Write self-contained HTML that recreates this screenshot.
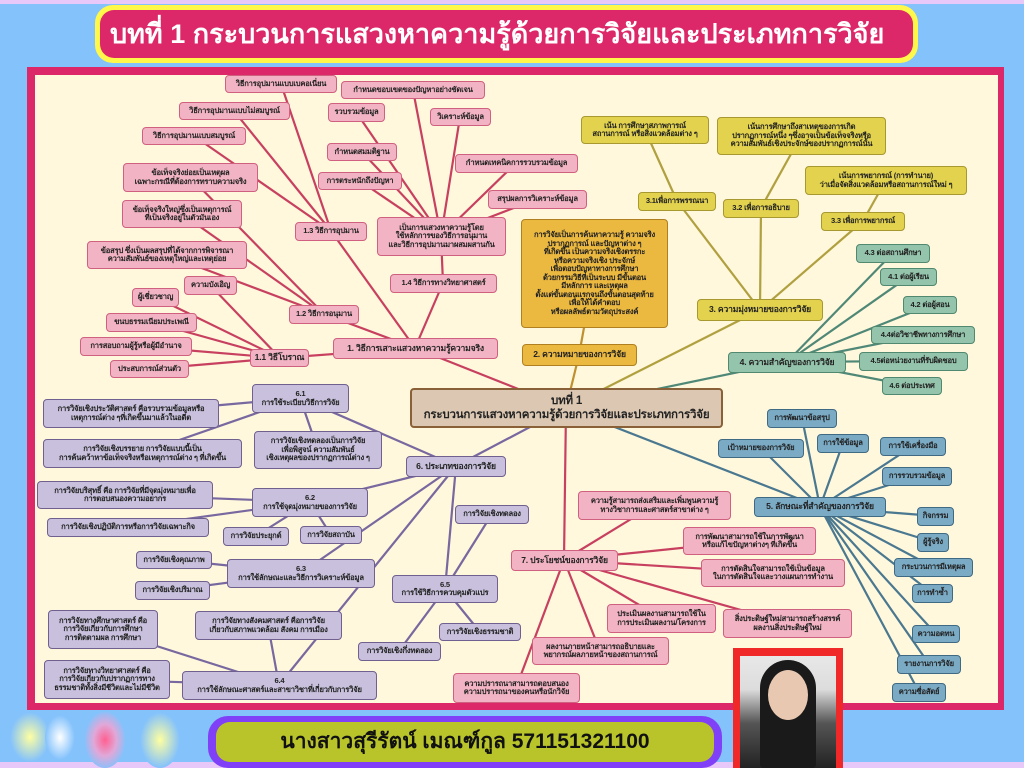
<!DOCTYPE html>
<html><head><meta charset="utf-8"><style>
*{margin:0;padding:0;box-sizing:border-box}
body{width:1024px;height:768px;overflow:hidden;position:relative;background:#84c2fc;font-family:"Liberation Sans","Noto Sans CJK SC",sans-serif}
.top{position:absolute;left:0;top:0;width:1024px;height:4px;background:#e8c8f8}
.bot{position:absolute;left:0;bottom:0;width:1024px;height:6px;background:#e8c8f8}
.hdr{position:absolute;left:95px;top:5px;width:823px;height:58px;background:#fff84a;border-radius:18px}
.hdr div{position:absolute;left:5px;top:5px;right:5px;bottom:5px;background:#dc2868;border-radius:14px;color:#fff;font-weight:bold;font-size:27px;line-height:48px;padding-left:10px;white-space:nowrap}
.frame{position:absolute;left:27px;top:67px;width:977px;height:643px;background:#dc2868}
.inner{position:absolute;left:35px;top:75px;width:963px;height:628px;background:#fff8dc}
.name{position:absolute;left:208px;top:716px;width:514px;height:52px;background:#8040f8;border-radius:20px}
.name div{position:absolute;left:8px;top:6px;right:8px;bottom:6px;background:#b8c42a;border-radius:14px;text-align:center;font-weight:bold;font-size:21px;line-height:40px;color:#111}
.photo{position:absolute;left:733px;top:648px;width:110px;height:120px;background:#f02828}
.photo div{position:absolute;left:7px;top:8px;right:7px;bottom:0;background:linear-gradient(#e8e8e8 0,#dcdcdc 30%,#555 60%,#222)}
.face{position:absolute;left:28px;top:14px;width:40px;height:50px;border-radius:50%;background:#e8c8b0}
.hair{position:absolute;left:20px;top:4px;width:56px;height:108px;border-radius:28px 28px 4px 4px;background:#1a1a1a}
.n{position:absolute;display:flex;align-items:center;justify-content:center;text-align:center;font-size:7.6px;font-weight:bold;line-height:1.12;border-radius:4px;border:1px solid;color:#222;white-space:nowrap;overflow:hidden;letter-spacing:-0.2px}
.p{background:#f2b4c4;border-color:#d06080}
.y{background:#e2d24e;border-color:#a89830}
.o{background:#ebb840;border-color:#b08020}
.g{background:#94c4ac;border-color:#508870}
.b{background:#7aaac4;border-color:#406a84}
.v{background:#c8c0dc;border-color:#706090}
.c{background:#dcc8b2;border-color:#8a6038;font-size:11.5px;border-width:2px;line-height:1.25}
.m{font-size:8.6px}
svg{position:absolute;left:0;top:0}
.glow{position:absolute;border-radius:50%}
</style></head><body>
<div class="top"></div><div class="bot"></div>
<div class="glow" style="left:10px;top:712px;width:40px;height:50px;background:radial-gradient(#ffffa0,#84c2fc 70%)"></div>
<div class="glow" style="left:45px;top:715px;width:30px;height:45px;background:radial-gradient(#ffffff,#84c2fc 70%)"></div>
<div class="glow" style="left:85px;top:712px;width:40px;height:56px;background:radial-gradient(#ff6090,#e0a8d8 40%,#84c2fc 75%)"></div>
<div class="glow" style="left:140px;top:712px;width:40px;height:56px;background:radial-gradient(#ffffa0,#84c2fc 70%)"></div>
<div class="hdr"><div>บทที่ 1 กระบวนการแสวงหาความรู้ด้วยการวิจัยและประเภทการวิจัย</div></div>
<div class="frame"></div><div class="inner"></div>
<svg width="1024" height="768">
<g stroke-linecap="round">
<g stroke="#c84060" stroke-width="2.2">
<line x1="566" y1="408" x2="415" y2="348"/><line x1="415" y1="348" x2="280" y2="358"/><line x1="415" y1="348" x2="324" y2="314"/><line x1="415" y1="348" x2="331" y2="231"/><line x1="415" y1="348" x2="443" y2="283"/>
<line x1="280" y1="358" x2="155" y2="297"/><line x1="280" y1="358" x2="151" y2="322"/><line x1="280" y1="358" x2="136" y2="346"/><line x1="280" y1="358" x2="150" y2="369"/><line x1="280" y1="358" x2="210" y2="285"/>
<line x1="324" y1="314" x2="190" y2="177"/><line x1="324" y1="314" x2="182" y2="214"/><line x1="324" y1="314" x2="167" y2="255"/>
<line x1="331" y1="231" x2="281" y2="84"/><line x1="331" y1="231" x2="234" y2="111"/><line x1="331" y1="231" x2="194" y2="136"/>
<line x1="443" y1="283" x2="441" y2="236"/>
<line x1="441" y1="236" x2="413" y2="90"/><line x1="441" y1="236" x2="356" y2="112"/><line x1="441" y1="236" x2="460" y2="117"/><line x1="441" y1="236" x2="362" y2="152"/><line x1="441" y1="236" x2="516" y2="163"/><line x1="441" y1="236" x2="360" y2="181"/><line x1="441" y1="236" x2="537" y2="199"/>
<line x1="566" y1="408" x2="564" y2="560"/>
<line x1="564" y1="560" x2="654" y2="505"/><line x1="564" y1="560" x2="749" y2="541"/><line x1="564" y1="560" x2="773" y2="573"/><line x1="564" y1="560" x2="661" y2="618"/><line x1="564" y1="560" x2="787" y2="623"/><line x1="564" y1="560" x2="600" y2="651"/><line x1="564" y1="560" x2="516" y2="688"/>
</g>
<g stroke="#b0a040" stroke-width="2.2">
<line x1="566" y1="408" x2="760" y2="310"/><line x1="760" y1="310" x2="677" y2="201"/><line x1="760" y1="310" x2="761" y2="208"/><line x1="760" y1="310" x2="863" y2="221"/>
<line x1="677" y1="201" x2="645" y2="130"/><line x1="761" y1="208" x2="801" y2="136"/><line x1="863" y1="221" x2="886" y2="180"/>
</g>
<g stroke="#c09030" stroke-width="2.2"><line x1="566" y1="408" x2="579" y2="355"/><line x1="579" y1="355" x2="594" y2="273"/></g>
<g stroke="#508878" stroke-width="2.2">
<line x1="566" y1="408" x2="787" y2="362"/><line x1="787" y1="362" x2="893" y2="253"/><line x1="787" y1="362" x2="908" y2="277"/><line x1="787" y1="362" x2="930" y2="305"/><line x1="787" y1="362" x2="923" y2="335"/><line x1="787" y1="362" x2="913" y2="361"/><line x1="787" y1="362" x2="912" y2="386"/>
</g>
<g stroke="#4a7890" stroke-width="2.2">
<line x1="566" y1="408" x2="820" y2="507"/>
<line x1="820" y1="507" x2="802" y2="418"/><line x1="820" y1="507" x2="761" y2="448"/><line x1="820" y1="507" x2="843" y2="443"/><line x1="820" y1="507" x2="913" y2="446"/><line x1="820" y1="507" x2="917" y2="476"/><line x1="820" y1="507" x2="935" y2="516"/><line x1="820" y1="507" x2="933" y2="542"/><line x1="820" y1="507" x2="933" y2="567"/><line x1="820" y1="507" x2="932" y2="593"/><line x1="820" y1="507" x2="936" y2="634"/><line x1="820" y1="507" x2="929" y2="664"/><line x1="820" y1="507" x2="919" y2="692"/>
</g>
<g stroke="#7868a0" stroke-width="2.2">
<line x1="566" y1="408" x2="456" y2="466"/>
<line x1="456" y1="466" x2="300" y2="398"/><line x1="456" y1="466" x2="310" y2="502"/><line x1="456" y1="466" x2="301" y2="573"/><line x1="456" y1="466" x2="279" y2="685"/><line x1="456" y1="466" x2="445" y2="589"/>
<line x1="300" y1="398" x2="131" y2="413"/><line x1="300" y1="398" x2="142" y2="453"/><line x1="300" y1="398" x2="318" y2="450"/>
<line x1="310" y1="502" x2="125" y2="495"/><line x1="310" y1="502" x2="128" y2="527"/><line x1="310" y1="502" x2="256" y2="536"/><line x1="310" y1="502" x2="331" y2="535"/>
<line x1="301" y1="573" x2="174" y2="560"/><line x1="301" y1="573" x2="172" y2="590"/>
<line x1="279" y1="685" x2="103" y2="629"/><line x1="279" y1="685" x2="268" y2="625"/><line x1="279" y1="685" x2="107" y2="680"/>
<line x1="445" y1="589" x2="492" y2="514"/><line x1="445" y1="589" x2="480" y2="632"/><line x1="445" y1="589" x2="399" y2="651"/>
</g>
</g>
</svg>
<div class="n c" style="left:410px;top:388px;width:313px;height:40px;flex-direction:column">บทที่ 1<br>กระบวนการแสวงหาความรู้ด้วยการวิจัยและประเภทการวิจัย</div>
<div class="n p" style="left:225px;top:75px;width:112px;height:18px">วิธีการอุปมานแบบเบคอเนี่ยน</div>
<div class="n p" style="left:341px;top:81px;width:144px;height:18px">กำหนดขอบเขตของปัญหาอย่างชัดเจน</div>
<div class="n p" style="left:179px;top:102px;width:111px;height:18px">วิธีการอุปมานแบบไม่สมบูรณ์</div>
<div class="n p" style="left:328px;top:103px;width:57px;height:19px">รวบรวมข้อมูล</div>
<div class="n p" style="left:430px;top:108px;width:61px;height:18px">วิเคราะห์ข้อมูล</div>
<div class="n p" style="left:142px;top:127px;width:104px;height:18px">วิธีการอุปมานแบบสมบูรณ์</div>
<div class="n p" style="left:327px;top:143px;width:70px;height:18px">กำหนดสมมติฐาน</div>
<div class="n p" style="left:455px;top:154px;width:123px;height:19px">กำหนดเทคนิคการรวบรวมข้อมูล</div>
<div class="n p" style="left:318px;top:172px;width:84px;height:18px">การตระหนักถึงปัญหา</div>
<div class="n p" style="left:488px;top:190px;width:99px;height:19px">สรุปผลการวิเคราะห์ข้อมูล</div>
<div class="n p" style="left:123px;top:163px;width:135px;height:29px">ข้อเท็จจริงย่อยเป็นเหตุผล<br>เฉพาะกรณีที่ต้องการทราบความจริง</div>
<div class="n p" style="left:122px;top:200px;width:120px;height:28px">ข้อเท็จจริงใหญ่ซึ่งเป็นเหตุการณ์<br>ที่เป็นจริงอยู่ในตัวมันเอง</div>
<div class="n p" style="left:87px;top:241px;width:160px;height:28px">ข้อสรุป ซึ่งเป็นผลสรุปที่ได้จากการพิจารณา<br>ความสัมพันธ์ของเหตุใหญ่และเหตุย่อย</div>
<div class="n p" style="left:295px;top:222px;width:72px;height:19px">1.3 วิธีการอุปมาน</div>
<div class="n p" style="left:377px;top:217px;width:129px;height:39px">เป็นการแสวงหาความรู้โดย<br>ใช้หลักการของวิธีการอนุมาน<br>และวิธีการอุปมานมาผสมผสานกัน</div>
<div class="n p" style="left:390px;top:274px;width:107px;height:19px">1.4 วิธีการทางวิทยาศาสตร์</div>
<div class="n p" style="left:184px;top:276px;width:53px;height:19px">ความบังเอิญ</div>
<div class="n p" style="left:132px;top:288px;width:47px;height:19px">ผู้เชี่ยวชาญ</div>
<div class="n p" style="left:289px;top:305px;width:70px;height:19px">1.2 วิธีการอนุมาน</div>
<div class="n p" style="left:106px;top:313px;width:91px;height:19px">ขนบธรรมเนียมประเพณี</div>
<div class="n p" style="left:80px;top:337px;width:112px;height:19px">การสอบถามผู้รู้หรือผู้มีอำนาจ</div>
<div class="n p m" style="left:250px;top:349px;width:59px;height:18px">1.1 วิธีโบราณ</div>
<div class="n p m" style="left:333px;top:338px;width:165px;height:21px">1. วิธีการเสาะแสวงหาความรู้ความจริง</div>
<div class="n p" style="left:110px;top:360px;width:79px;height:18px">ประสบการณ์ส่วนตัว</div>
<div class="n o" style="left:521px;top:219px;width:147px;height:109px">การวิจัยเป็นการค้นหาความรู้ ความจริง<br>ปรากฏการณ์ และปัญหาต่าง ๆ<br>ที่เกิดขึ้น เป็นความจริงเชิงตรรกะ<br>หรือความจริงเชิง ประจักษ์<br>เพื่อตอบปัญหาทางการศึกษา<br>ด้วยกรรมวิธีที่เป็นระบบ มีขั้นตอน<br>มีหลักการ และเหตุผล<br>ตั้งแต่ขั้นตอนแรกจนถึงขั้นตอนสุดท้าย<br>เพื่อให้ได้คำตอบ<br>หรือผลลัพธ์ตามวัตถุประสงค์</div>
<div class="n o m" style="left:522px;top:344px;width:115px;height:22px">2. ความหมายของการวิจัย</div>
<div class="n y" style="left:581px;top:116px;width:128px;height:28px">เน้น การศึกษาสภาพการณ์<br>สถานการณ์ หรือสิ่งแวดล้อมต่าง ๆ</div>
<div class="n y" style="left:717px;top:117px;width:169px;height:38px">เน้นการศึกษาถึงสาเหตุของการเกิด<br>ปรากฏการณ์หนึ่ง ๆซึ่งอาจเป็นข้อเท็จจริงหรือ<br>ความสัมพันธ์เชิงประจักษ์ของปรากฏการณ์นั้น</div>
<div class="n y" style="left:805px;top:166px;width:162px;height:29px">เน้นการพยากรณ์ (การทำนาย)<br>ว่าเมื่อจัดสิ่งแวดล้อมหรือสถานการณ์ใหม่ ๆ</div>
<div class="n y" style="left:638px;top:192px;width:78px;height:19px">3.1เพื่อการพรรณนา</div>
<div class="n y" style="left:723px;top:199px;width:76px;height:19px">3.2 เพื่อการอธิบาย</div>
<div class="n y" style="left:821px;top:212px;width:84px;height:19px">3.3 เพื่อการพยากรณ์</div>
<div class="n y m" style="left:697px;top:299px;width:126px;height:22px">3. ความมุ่งหมายของการวิจัย</div>
<div class="n g" style="left:856px;top:244px;width:74px;height:19px">4.3 ต่อสถานศึกษา</div>
<div class="n g" style="left:880px;top:268px;width:57px;height:18px">4.1 ต่อผู้เรียน</div>
<div class="n g" style="left:903px;top:296px;width:54px;height:18px">4.2 ต่อผู้สอน</div>
<div class="n g" style="left:871px;top:326px;width:104px;height:18px">4.4ต่อวิชาชีพทางการศึกษา</div>
<div class="n g m" style="left:728px;top:352px;width:118px;height:21px">4. ความสำคัญของการวิจัย</div>
<div class="n g" style="left:859px;top:352px;width:109px;height:19px">4.5ต่อหน่วยงานที่รับผิดชอบ</div>
<div class="n g" style="left:882px;top:377px;width:60px;height:18px">4.6 ต่อประเทศ</div>
<div class="n b" style="left:767px;top:409px;width:70px;height:19px">การพัฒนาข้อสรุป</div>
<div class="n b" style="left:718px;top:439px;width:86px;height:19px">เป้าหมายของการวิจัย</div>
<div class="n b" style="left:817px;top:434px;width:52px;height:19px">การใช้ข้อมูล</div>
<div class="n b" style="left:880px;top:437px;width:66px;height:19px">การใช้เครื่องมือ</div>
<div class="n b" style="left:882px;top:467px;width:70px;height:19px">การรวบรวมข้อมูล</div>
<div class="n b m" style="left:754px;top:497px;width:132px;height:20px">5. ลักษณะที่สำคัญของการวิจัย</div>
<div class="n b" style="left:917px;top:507px;width:37px;height:19px">กิจกรรม</div>
<div class="n b" style="left:917px;top:533px;width:32px;height:19px">ผู้รู้จริง</div>
<div class="n b" style="left:894px;top:558px;width:79px;height:19px">กระบวนการมีเหตุผล</div>
<div class="n b" style="left:912px;top:584px;width:41px;height:19px">การทำซ้ำ</div>
<div class="n b" style="left:912px;top:625px;width:48px;height:18px">ความอดทน</div>
<div class="n b" style="left:897px;top:655px;width:64px;height:19px">รายงานการวิจัย</div>
<div class="n b" style="left:892px;top:683px;width:54px;height:19px">ความซื่อสัตย์</div>
<div class="n p" style="left:578px;top:491px;width:153px;height:29px">ความรู้สามารถส่งเสริมและเพิ่มพูนความรู้<br>ทางวิชาการและศาสตร์สาขาต่าง ๆ</div>
<div class="n p" style="left:683px;top:527px;width:133px;height:28px">การพัฒนาสามารถใช้ในการพัฒนา<br>หรือแก้ไขปัญหาต่างๆ ที่เกิดขึ้น</div>
<div class="n p m" style="left:511px;top:550px;width:107px;height:21px">7. ประโยชน์ของการวิจัย</div>
<div class="n p" style="left:701px;top:559px;width:144px;height:28px">การตัดสินใจสามารถใช้เป็นข้อมูล<br>ในการตัดสินใจและวางแผนการทำงาน</div>
<div class="n p" style="left:607px;top:604px;width:109px;height:29px">ประเมินผลงานสามารถใช้ใน<br>การประเมินผลงาน/โครงการ</div>
<div class="n p" style="left:723px;top:609px;width:129px;height:29px">สิ่งประดิษฐ์ใหม่สามารถสร้างสรรค์<br>ผลงานสิ่งประดิษฐ์ใหม่</div>
<div class="n p" style="left:532px;top:637px;width:137px;height:28px">ผลงานภายหน้าสามารถอธิบายและ<br>พยากรณ์ผลภายหน้าของสถานการณ์</div>
<div class="n p" style="left:453px;top:673px;width:127px;height:30px">ความปรารถนาสามารถตอบสนอง<br>ความปรารถนาของคนหรือนักวิจัย</div>
<div class="n v" style="left:252px;top:384px;width:97px;height:29px">6.1<br>การใช้ระเบียบวิธีการวิจัย</div>
<div class="n v" style="left:43px;top:399px;width:176px;height:29px">การวิจัยเชิงประวัติศาสตร์ คือรวบรวมข้อมูลหรือ<br>เหตุการณ์ต่าง ๆที่เกิดขึ้นมาแล้วในอดีต</div>
<div class="n v" style="left:43px;top:439px;width:199px;height:29px">การวิจัยเชิงบรรยาย การวิจัยแบบนี้เป็น<br>การค้นคว้าหาข้อเท็จจริงหรือเหตุการณ์ต่าง ๆ ที่เกิดขึ้น</div>
<div class="n v" style="left:254px;top:431px;width:128px;height:38px">การวิจัยเชิงทดลองเป็นการวิจัย<br>เพื่อพิสูจน์ ความสัมพันธ์<br>เชิงเหตุผลของปรากฏการณ์ต่าง ๆ</div>
<div class="n v m" style="left:406px;top:456px;width:100px;height:21px">6. ประเภทของการวิจัย</div>
<div class="n v" style="left:37px;top:481px;width:176px;height:28px">การวิจัยบริสุทธิ์ คือ การวิจัยที่มีจุดมุ่งหมายเพื่อ<br>การตอบสนองความอยากร</div>
<div class="n v" style="left:252px;top:488px;width:116px;height:29px">6.2<br>การใช้จุดมุ่งหมายของการวิจัย</div>
<div class="n v" style="left:47px;top:518px;width:162px;height:19px">การวิจัยเชิงปฏิบัติการหรือการวิจัยเฉพาะกิจ</div>
<div class="n v" style="left:223px;top:527px;width:66px;height:19px">การวิจัยประยุกต์</div>
<div class="n v" style="left:300px;top:526px;width:62px;height:18px">การวิจัยสถาบัน</div>
<div class="n v" style="left:455px;top:505px;width:74px;height:19px">การวิจัยเชิงทดลอง</div>
<div class="n v" style="left:136px;top:551px;width:76px;height:18px">การวิจัยเชิงคุณภาพ</div>
<div class="n v" style="left:227px;top:559px;width:148px;height:29px">6.3<br>การใช้ลักษณะและวิธีการวิเคราะห์ข้อมูล</div>
<div class="n v" style="left:135px;top:581px;width:75px;height:19px">การวิจัยเชิงปริมาณ</div>
<div class="n v" style="left:392px;top:575px;width:106px;height:28px">6.5<br>การใช้วิธีการควบคุมตัวแปร</div>
<div class="n v" style="left:48px;top:610px;width:110px;height:39px">การวิจัยทางศึกษาศาสตร์ คือ<br>การวิจัยเกี่ยวกับการศึกษา<br>การติดตามผล การศึกษา</div>
<div class="n v" style="left:195px;top:611px;width:147px;height:29px">การวิจัยทางสังคมศาสตร์ คือการวิจัย<br>เกี่ยวกับสภาพแวดล้อม สังคม การเมือง</div>
<div class="n v" style="left:439px;top:623px;width:82px;height:18px">การวิจัยเชิงธรรมชาติ</div>
<div class="n v" style="left:358px;top:642px;width:83px;height:19px">การวิจัยเชิงกึ่งทดลอง</div>
<div class="n v" style="left:44px;top:660px;width:126px;height:39px">การวิจัยทางวิทยาศาสตร์ คือ<br>การวิจัยเกี่ยวกับปรากฏการทาง<br>ธรรมชาติทั้งสิ่งมีชีวิตและไม่มีชีวิต</div>
<div class="n v" style="left:182px;top:671px;width:195px;height:29px">6.4<br>การใช้ลักษณะศาสตร์และสาขาวิชาที่เกี่ยวกับการวิจัย</div>
<div class="name"><div>นางสาวสุรีรัตน์ เมณฑ์กูล 571151321100</div></div>
<div class="photo"><div><span class="hair"></span><span class="face"></span></div></div>
</body></html>
